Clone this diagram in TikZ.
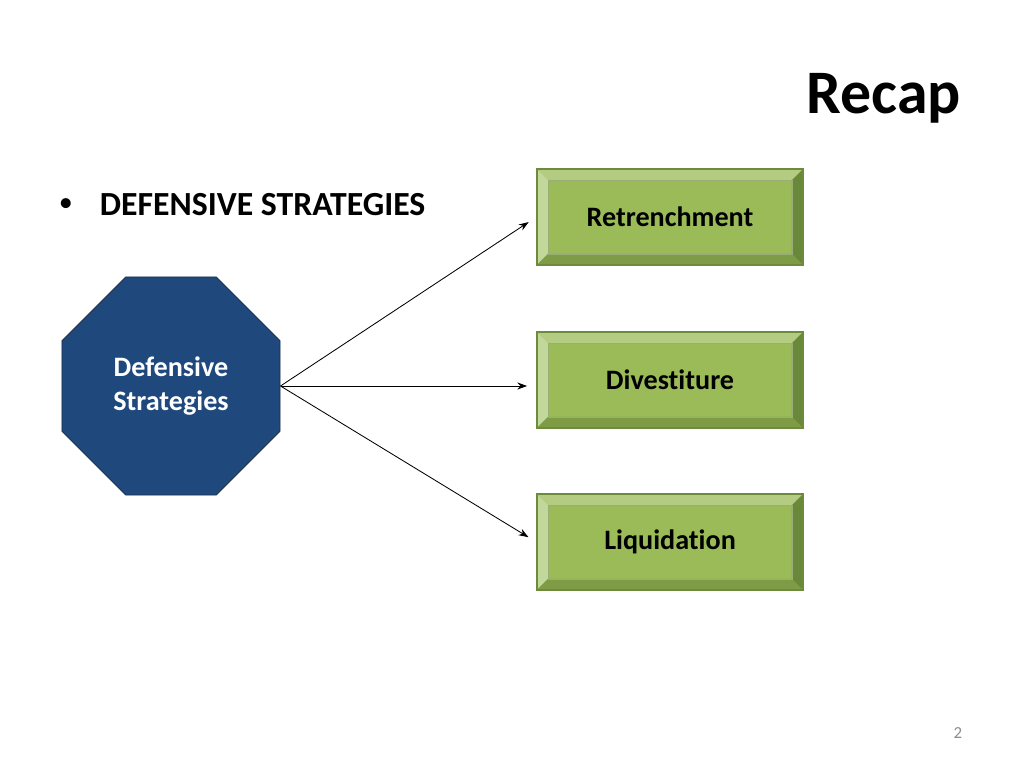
\documentclass[tikz,border=0pt]{standalone}
\usepackage{fontspec}
\setmainfont[Ligatures=NoCommon]{Carlito}
\usetikzlibrary{shapes.geometric,arrows.meta,positioning}

\definecolor{octfill}{HTML}{1F497D}
\definecolor{octedge}{HTML}{1A2F4A}
\definecolor{boxface}{HTML}{9BBB59}
\definecolor{boxedge}{HTML}{6E8A3C}
\definecolor{bevtop}{HTML}{B3CC82}
\definecolor{bevleft}{HTML}{C2D79A}
\definecolor{bevbottom}{HTML}{7E9B46}
\definecolor{bevright}{HTML}{6A883A}
\definecolor{pagegray}{HTML}{8C8C8C}

\begin{document}
\begin{tikzpicture}[
    x=0.025cm, y=-0.025cm,
    octagon/.style={regular polygon, regular polygon sides=8,
                  draw=octedge, fill=octfill,
                  minimum size=5.9cm, inner sep=0pt, line width=0.6pt,
                  text=white, align=center,
                  font=\bfseries\fontsize{20}{24}\selectfont},
    bevelbox/.style={rectangle, draw=boxedge, line width=0.9pt,
                  fill=boxface, minimum width=6.65cm, minimum height=2.4cm,
                  font=\bfseries\fontsize{20}{24}\selectfont,
                  path picture={
                    \fill[bevtop] (path picture bounding box.north west)
                      -- (path picture bounding box.north east)
                      -- ++(-0.28cm,-0.28cm)
                      -- ([shift={(0.28cm,-0.28cm)}]path picture bounding box.north west)
                      -- cycle;
                    \fill[bevleft] (path picture bounding box.north west)
                      -- ([shift={(0.28cm,-0.28cm)}]path picture bounding box.north west)
                      -- ([shift={(0.28cm,0.28cm)}]path picture bounding box.south west)
                      -- (path picture bounding box.south west)
                      -- cycle;
                    \fill[bevbottom] (path picture bounding box.south west)
                      -- ([shift={(0.28cm,0.28cm)}]path picture bounding box.south west)
                      -- ([shift={(-0.28cm,0.28cm)}]path picture bounding box.south east)
                      -- (path picture bounding box.south east)
                      -- cycle;
                    \fill[bevright] (path picture bounding box.north east)
                      -- ([shift={(-0.28cm,-0.28cm)}]path picture bounding box.north east)
                      -- ([shift={(-0.28cm,0.28cm)}]path picture bounding box.south east)
                      -- (path picture bounding box.south east)
                      -- cycle;
                    \draw[boxedge!70, line width=0.4pt]
                      ([shift={(0.28cm,-0.28cm)}]path picture bounding box.north west)
                      rectangle
                      ([shift={(-0.28cm,0.28cm)}]path picture bounding box.south east);
                  }},
    arrow/.style={-{Stealth[length=7pt,width=5pt]}, line width=0.6pt,
                  shorten >=0.23cm}
]
    \useasboundingbox (0,0) rectangle (1024,768);

    % Titel
    \node[font=\bfseries\fontsize{44}{53}\selectfont] (title) at (884,98) {Recap};

    % Opsomming
    \node[font=\fontsize{20}{24}\selectfont] (bullet) at (66,205) {•};
    \node[font=\bfseries\fontsize{24}{29}\selectfont, anchor=west]
        (head) at (95,205) {DEFENSIVE STRATEGIES};

    % Achthoek
    \node[octagon] (def) at (171,386) {Defensive\\Strategies};

    % Blokken
    \node[bevelbox] (ret) at (670,217) {Retrenchment};
    \node[bevelbox] (div) at (670,380) {Divestiture};
    \node[bevelbox] (liq) at (670,542) {Liquidation};

    % Pijlen
    \draw[arrow] (def.east) -- (ret.west);
    \draw[arrow] (def.east) -- (def.east -| div.west);
    \draw[arrow] (def.east) -- (liq.west);

    % Paginanummer
    \node[font=\fontsize{12}{14}\selectfont, text=pagegray] (page) at (958,733) {2};
\end{tikzpicture}
\end{document}
